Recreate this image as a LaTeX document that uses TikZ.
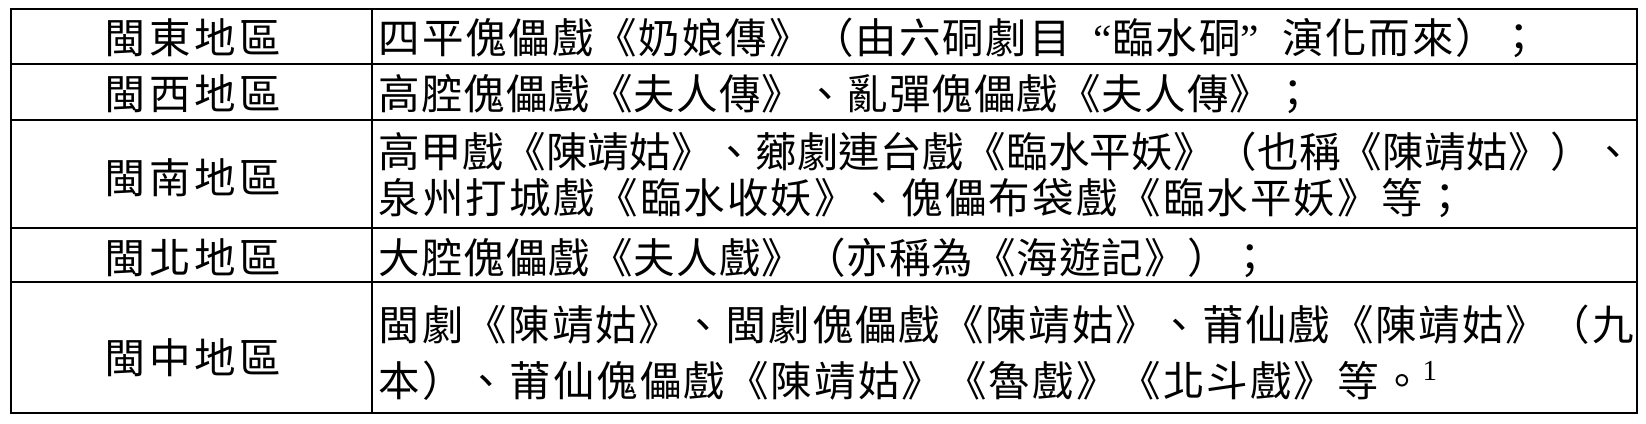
\documentclass[tikz,border=0pt]{standalone}
\usepackage{fontspec}
\setmainfont{Liberation Serif}
\newfontfamily\cjk{Noto Sans CJK TC}

\newcommand{\openq}{\makebox[1em][r]{\rmfamily “}}
\newcommand{\closeq}{\makebox[1em][l]{\rmfamily ”}}

\tikzset{
  rule/.style={black, line width=0.75pt},
  region/.style={inner sep=0pt, anchor=base,
    font=\cjk\fontsize{11.81pt}{14pt}\selectfont\addfontfeature{LetterSpace=8.4}},
  entry/.style={inner sep=0pt, anchor=base west,
    font=\cjk\fontsize{11.81pt}{14pt}\selectfont\addfontfeature{LetterSpace=#1}},
  entry/.default=2.5
}

\begin{document}
\begin{tikzpicture}
  \useasboundingbox (0,0) rectangle (16.46,4.23);

  % Marco
  \draw[rule] (0.11,0.10) rectangle (16.37,4.14);

  % Lineas
  \draw[rule] (3.72,0.10) -- (3.72,4.14);
  \draw[rule] (0.11,3.59) -- (16.37,3.59);
  \draw[rule] (0.11,3.03) -- (16.37,3.03);
  \draw[rule] (0.11,1.95) -- (16.37,1.95);
  \draw[rule] (0.11,1.41) -- (16.37,1.41);

  % Regiones
  \node[region] (east) at (1.93,3.70) {閩東地區};
  \node[region] (west) at (1.93,3.14) {閩西地區};
  \node[region] (south) at (1.93,2.30) {閩南地區};
  \node[region] (north) at (1.93,1.50) {閩北地區};
  \node[region] (central) at (1.93,0.50) {閩中地區};

  % Obras
  \node[entry=4.5] (eastplays) at (3.78,3.70) {四平傀儡戲《奶娘傳》（由六硐劇目\openq 臨水硐\closeq 演化而來）；};
  \node[entry] (westplays) at (3.78,3.14) {高腔傀儡戲《夫人傳》、亂彈傀儡戲《夫人傳》；};
  \node[entry=0.8] (southplays) at (3.78,2.56) {高甲戲《陳靖姑》、薌劇連台戲《臨水平妖》（也稱《陳靖姑》）、};
  \node[entry=5] (southmore) at (3.78,2.10) {泉州打城戲《臨水收妖》、傀儡布袋戲《臨水平妖》等；};
  \node[entry] (northplays) at (3.78,1.50) {大腔傀儡戲《夫人戲》（亦稱為《海遊記》）；};
  \node[entry=4.4] (centralplays) at (3.78,0.83) {閩劇《陳靖姑》、閩劇傀儡戲《陳靖姑》、莆仙戲《陳靖姑》（九};
  \node[entry=5] (centralmore) at (3.78,0.27) {本）、莆仙傀儡戲《陳靖姑》《魯戲》《北斗戲》等。{\rmfamily\textsuperscript{1}}};
\end{tikzpicture}
\end{document}
